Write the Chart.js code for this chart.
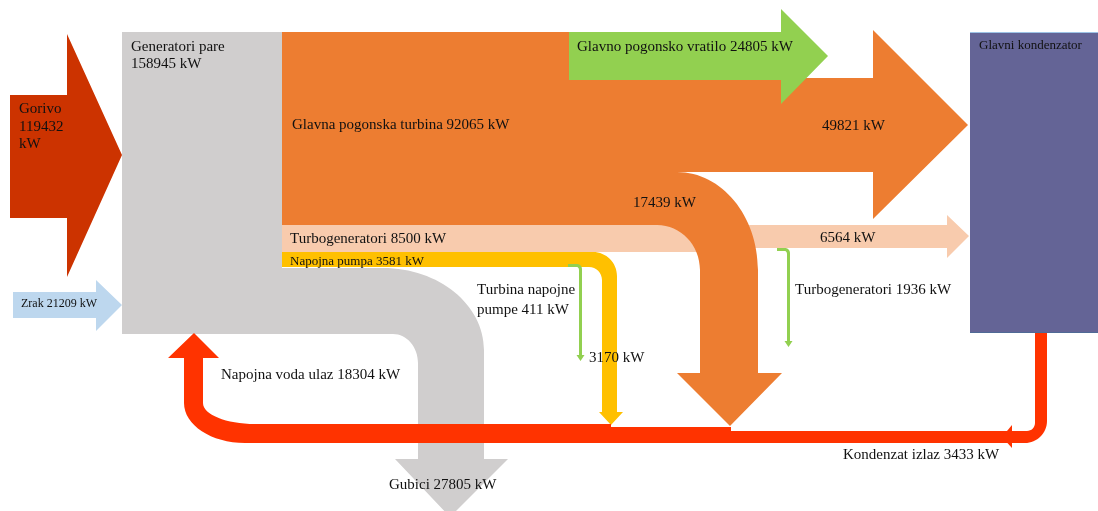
<!DOCTYPE html>
<html>
<head>
<meta charset="utf-8">
<title>Sankey - energetska bilanca</title>
<script src="https://cdn.jsdelivr.net/npm/chart.js@4.4.1/dist/chart.umd.min.js"></script>
<style>
    html, body { margin: 0; padding: 0; background: #ffffff; }
    #wrap { width: 1098px; height: 511px; }
</style>
</head>
<body>
<div id="wrap"><canvas id="sankey" width="1098" height="511"></canvas></div>
<script>
// === DATA ===
const flowKeys = ["gorivo", "zrak", "generatori", "turbina", "turbogen", "pumpa", "gubici", "vratilo",
    "turbinaKond", "turbinaDolje", "turbogenKond", "turbinaPumpe", "pumpaVoda", "turbogenVlastito",
    "napojnaVoda", "kondenzat"];
const flowNames = ["Gorivo", "Zrak", "Generatori pare", "Glavna pogonska turbina", "Turbogeneratori",
    "Napojna pumpa", "Gubici", "Glavno pogonsko vratilo", "", "", "", "Turbina napojne pumpe", "",
    "Turbogeneratori", "Napojna voda ulaz", "Kondenzat izlaz"];
const flowValues = [119432, 21209, 158945, 92065, 8500, 3581, 27805, 24805, 49821, 17439, 6564, 411, 3170,
    1936, 18304, 3433];
const nodeNames = ["Glavni kondenzator"];

// === STYLE ===
const COLORS = {
    gorivo: "#cc3300",
    zrak: "#bdd7ee",
    gray: "#d0cece",
    orange: "#ed7d31",
    peach: "#f8cbad",
    yellow: "#ffc000",
    green: "#92d050",
    red: "#ff3300",
    purple: "#646496",
    purpleTop: "#9dc3e6",
    purpleBottom: "#4f6a96",
    text: "#111111",
};
const FONT = "'Liberation Serif', 'Times New Roman', serif";

// Shapes in axis units (x 0..1098, y 0..511). "hv"/"vh" = quarter-bend corners.
const SHAPES = [
    { color: COLORS.gray, path: [["M", 122, 32], ["L", 282, 32], ["L", 282, 268], ["L", 383, 268], ["hv", 484, 350],
        ["L", 484, 459], ["L", 508, 459], ["L", 450, 517], ["L", 395, 459], ["L", 418, 459], ["L", 418, 363],
        ["vh", 393, 334], ["L", 122, 334]] },
    { color: COLORS.gorivo, path: [["M", 10, 95], ["L", 67, 95], ["L", 67, 34], ["L", 122, 155], ["L", 67, 277],
        ["L", 67, 218], ["L", 10, 218]] },
    { color: COLORS.zrak, path: [["M", 13, 292], ["L", 96, 292], ["L", 96, 280], ["L", 122, 305], ["L", 96, 331],
        ["L", 96, 318], ["L", 13, 318]] },
    { color: COLORS.peach, path: [["M", 282, 225], ["L", 735, 225], ["L", 735, 252], ["L", 282, 252]] },
    { color: COLORS.peach, path: [["M", 730, 225], ["L", 947, 225], ["L", 947, 215], ["L", 969, 236], ["L", 947, 258],
        ["L", 947, 248], ["L", 730, 248]] },
    { color: COLORS.orange, path: [["M", 282, 32], ["L", 569, 32], ["L", 569, 78], ["L", 873, 78], ["L", 873, 30],
        ["L", 968, 125], ["L", 873, 219], ["L", 873, 172], ["L", 677, 172], ["hv", 758, 270], ["L", 758, 373],
        ["L", 782, 373], ["L", 730, 426], ["L", 677, 373], ["L", 700, 373], ["L", 700, 270], ["vh", 657, 225],
        ["L", 282, 225]] },
    { color: COLORS.green, path: [["M", 569, 32], ["L", 781, 32], ["L", 781, 9], ["L", 828, 56], ["L", 781, 104],
        ["L", 781, 80], ["L", 569, 80]] },
    { color: COLORS.yellow, path: [["M", 282, 252], ["L", 593, 252], ["hv", 617, 276], ["L", 617, 412], ["L", 623, 412],
        ["L", 611, 425], ["L", 599, 412], ["L", 602, 412], ["L", 602, 280], ["vh", 589, 267], ["L", 282, 267]] },
    { color: COLORS.green, path: [["M", 568, 264], ["L", 577, 264], ["hv", 582, 269], ["L", 582, 355], ["L", 584.5, 355],
        ["L", 580.5, 361], ["L", 576.5, 355], ["L", 579, 355], ["L", 579, 270], ["vh", 577, 267], ["L", 568, 267]] },
    { color: COLORS.green, path: [["M", 777, 248], ["L", 785, 248], ["hv", 790, 253], ["L", 790, 341], ["L", 792.5, 341],
        ["L", 788.5, 347], ["L", 784.5, 341], ["L", 787, 341], ["L", 787, 254], ["vh", 785, 251], ["L", 777, 251]] },
    { color: COLORS.red, path: [["M", 611, 424], ["L", 255, 424], ["hv", 203, 403], ["L", 203, 358], ["L", 219, 358],
        ["L", 194, 333], ["L", 168, 358], ["L", 184, 358], ["L", 184, 403], ["vh", 245, 443], ["L", 611, 443]] },
    { color: COLORS.red, path: [["M", 609, 427], ["L", 731, 427], ["L", 731, 443], ["L", 609, 443]] },
    { color: COLORS.red, path: [["M", 729, 431], ["L", 1027, 431], ["hv", 1035, 423], ["L", 1035, 333], ["L", 1047, 333],
        ["L", 1047, 421], ["vh", 1025, 443], ["L", 729, 443]] },
    { color: COLORS.red, path: [["M", 1012, 425], ["L", 1012, 448], ["L", 1002, 437]] },
    { color: COLORS.purple, path: [["M", 970, 32], ["L", 1098, 32], ["L", 1098, 333], ["L", 970, 333]] },
];

// Label placement: flow key -> position (x, baseline y), font size, words per line
const LABELS = {
    gorivo: { x: 19, y: 113, size: 15, lh: 17.5, split: [1, 1, 1] },
    zrak: { x: 21, y: 307, size: 12 },
    generatori: { x: 131, y: 51, size: 15, lh: 17, split: [2, 2] },
    turbina: { x: 292, y: 129, size: 15 },
    vratilo: { x: 577, y: 51, size: 15 },
    turbinaKond: { x: 822, y: 130, size: 15 },
    turbinaDolje: { x: 633, y: 207, size: 15 },
    turbogenKond: { x: 820, y: 242, size: 15 },
    turbogen: { x: 290, y: 243, size: 15 },
    pumpa: { x: 290, y: 265, size: 13 },
    turbinaPumpe: { x: 477, y: 294, size: 15, lh: 20, split: [2, 3] },
    pumpaVoda: { x: 589, y: 362, size: 15 },
    turbogenVlastito: { x: 795, y: 294, size: 15 },
    napojnaVoda: { x: 221, y: 379, size: 15 },
    gubici: { x: 389, y: 489, size: 15 },
    kondenzat: { x: 843, y: 459, size: 15 },
};
const NODE_LABELS = [{ x: 979, y: 49, size: 13 }];

const K = 0.5523;

function tracePath(ctx, path, X, Y) {
    let cx = 0, cy = 0;
    ctx.beginPath();
    path.forEach(([cmd, x, y]) => {
        if (cmd === "M") ctx.moveTo(X(x), Y(y));
        else if (cmd === "L") ctx.lineTo(X(x), Y(y));
        else if (cmd === "hv") {
            // starts horizontal, ends vertical
            ctx.bezierCurveTo(X(cx + K * (x - cx)), Y(cy), X(x), Y(y - K * (y - cy)), X(x), Y(y));
        } else if (cmd === "vh") {
            // starts vertical, ends horizontal
            ctx.bezierCurveTo(X(cx), Y(cy + K * (y - cy)), X(x - K * (x - cx)), Y(y), X(x), Y(y));
        }
        cx = x;
        cy = y;
    });
    ctx.closePath();
}

function labelLines(i) {
    const words = ((flowNames[i] ? flowNames[i] + " " : "") + flowValues[i] + " kW").split(" ");
    const spec = LABELS[flowKeys[i]];
    if (!spec.split) return [words.join(" ")];
    const lines = [];
    let pos = 0;
    spec.split.forEach((n) => {
        lines.push(words.slice(pos, pos + n).join(" "));
        pos += n;
    });
    return lines;
}

function hLine(ctx, x0, x1, y, color) {
    ctx.strokeStyle = color;
    ctx.lineWidth = 1;
    ctx.beginPath();
    ctx.moveTo(x0, Math.round(y) + 0.5);
    ctx.lineTo(x1, Math.round(y) + 0.5);
    ctx.stroke();
}

const sankeyPlugin = {
    id: "sankeyDraw",
    afterDraw(chart) {
        const ctx = chart.ctx;
        const xs = chart.scales.x;
        const ys = chart.scales.y;
        const X = (v) => xs.getPixelForValue(v);
        const Y = (v) => ys.getPixelForValue(v);
        const unit = Math.abs(Y(1) - Y(0));

        ctx.save();
        SHAPES.forEach((s) => {
            tracePath(ctx, s.path, X, Y);
            ctx.fillStyle = s.color;
            ctx.fill();
        });

        // thin edges of the condenser box
        hLine(ctx, X(970), X(1098), Y(32), COLORS.purpleTop);
        hLine(ctx, X(970), X(1098), Y(333) - 1, COLORS.purpleBottom);

        // labels
        ctx.fillStyle = COLORS.text;
        ctx.textBaseline = "alphabetic";
        ctx.textAlign = "left";
        flowKeys.forEach((key, i) => {
            const spec = LABELS[key];
            if (!spec) return;
            ctx.font = `${spec.size * unit}px ${FONT}`;
            labelLines(i).forEach((line, j) => {
                ctx.fillText(line, X(spec.x), Y(spec.y + j * (spec.lh || 0)));
            });
        });
        nodeNames.forEach((name, i) => {
            const spec = NODE_LABELS[i];
            ctx.font = `${spec.size * unit}px ${FONT}`;
            ctx.fillText(name, X(spec.x), Y(spec.y));
        });
        ctx.restore();
    },
};

const chart = new Chart(document.getElementById("sankey").getContext("2d"), {
    type: "scatter",
    data: { datasets: [] },
    options: {
        responsive: false,
        animation: false,
        devicePixelRatio: 1,
        layout: { padding: 0 },
        plugins: { legend: { display: false }, tooltip: { enabled: false } },
        scales: {
            x: { type: "linear", min: 0, max: 1098, display: false },
            y: { type: "linear", min: 0, max: 511, reverse: true, display: false },
        },
    },
    plugins: [sankeyPlugin],
});
</script>
</body>
</html>
